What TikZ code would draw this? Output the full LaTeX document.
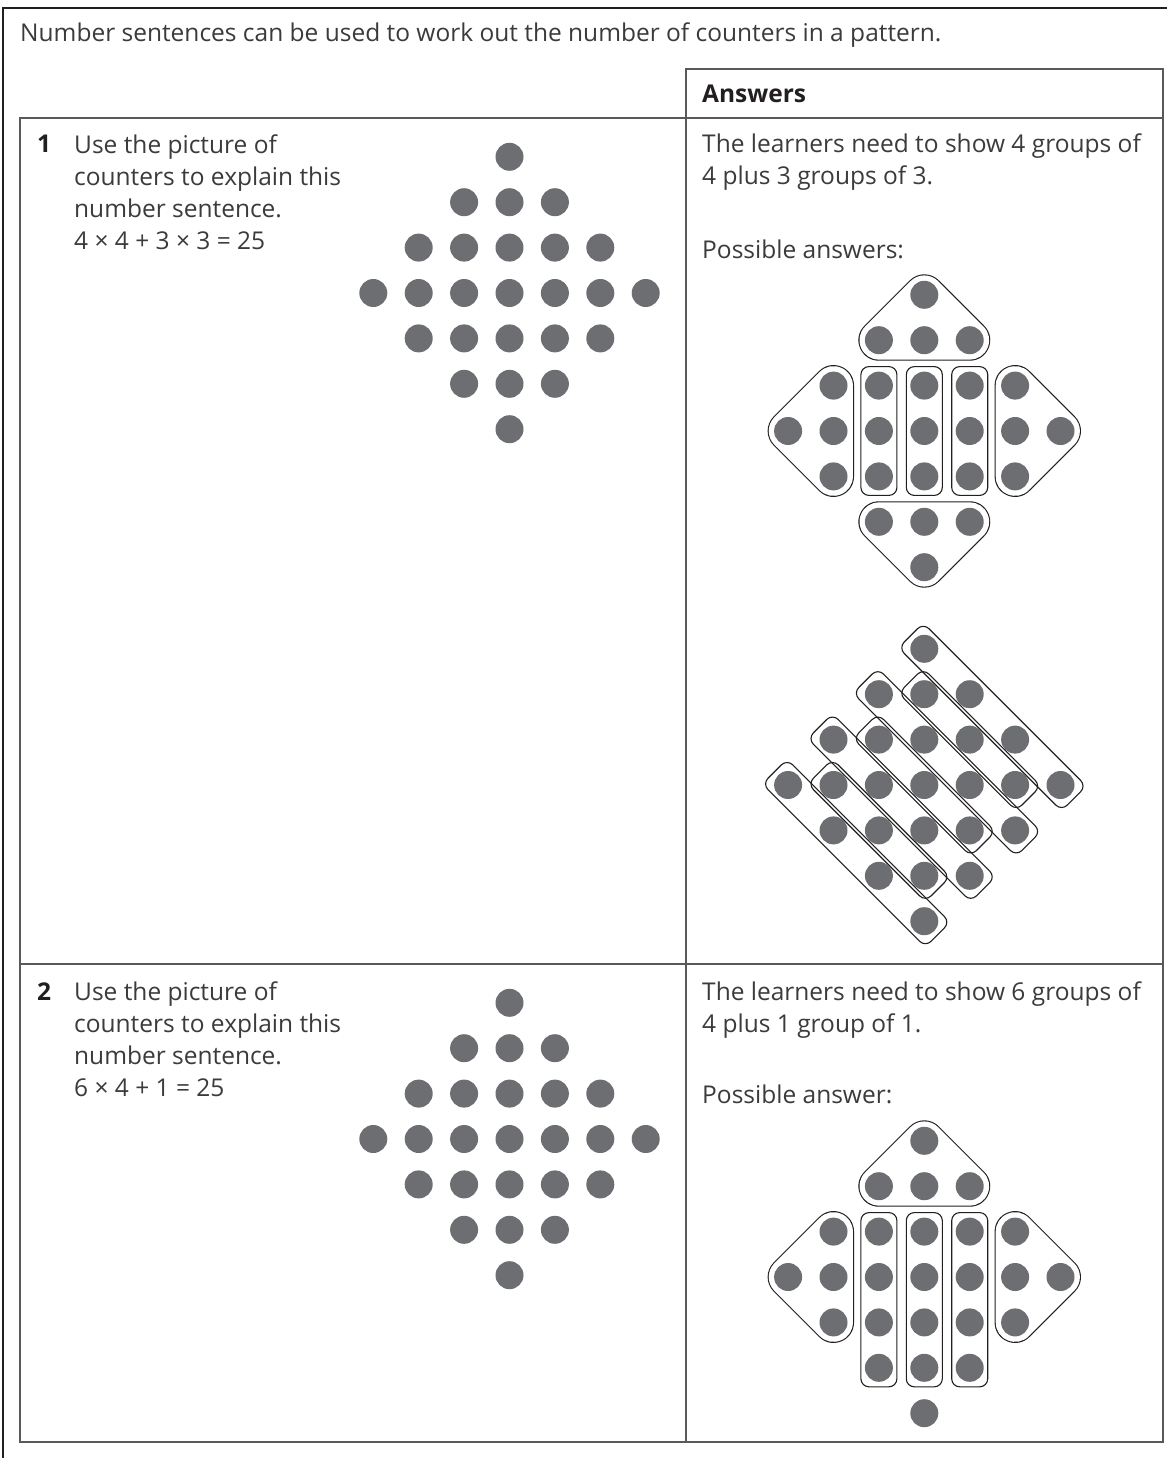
\documentclass[tikz,border=0pt]{standalone}
\usepackage{fontspec}
\setmainfont{Open Sans}
\usetikzlibrary{positioning}
\definecolor{countergray}{RGB}{109,110,113}
\definecolor{inkgray}{RGB}{35,31,32}
\definecolor{textgray}{RGB}{60,58,60}
\definecolor{rulegray}{RGB}{88,89,91}
\tikzset{
  sheetText/.style={anchor=base west, align=left, inner sep=0pt, text=textgray, font=\fontsize{24.5}{32}\selectfont},
  sheetNum/.style={sheetText, text=inkgray, font=\fontsize{24.5}{32}\selectfont\bfseries},
  sheetRule/.style={draw=rulegray, line width=1.6pt},
  counterDot/.style={fill=countergray},
  groupTri/.style={draw=inkgray, double=white, double distance=38.8pt, line width=1.1pt, line join=round, fill=white},
  groupCol/.style={draw=inkgray, line width=1.1pt, rounded corners=8pt, minimum width=36pt, inner sep=0pt},
  groupDiag/.style={draw=inkgray, line width=1.1pt, rounded corners=8pt, rotate=-45, minimum height=35pt, inner sep=0pt}
}
% 25 counters in a diamond, in the units of the scope
\newcommand{\counterDiamond}{%
  \foreach \m in {-3,...,3}{
    \pgfmathtruncatemacro\w{3-abs(\m)}
    \foreach \k in {-\w,...,\w}
      \fill[counterDot] (\k,\m) circle[radius=14pt];
  }}

\begin{document}
\begin{tikzpicture}[x=1pt, y=-1pt]
  \useasboundingbox (0,0) rectangle (1167,1458);

  % frame and table
  \draw[line width=1.2pt, inkgray] (3,1458) -- (3,8) -- (1167,8);
  \draw[sheetRule] (686,69) rectangle (1163,118);
  \draw[sheetRule] (20,118) rectangle (1163,1442);
  \draw[sheetRule] (686,118) -- (686,1442);
  \draw[sheetRule] (20,964) -- (1163,964);

  \node[sheetText] (intro) at (20,42) {Number sentences can be used to work out the number of counters in a pattern.};
  \node[sheetNum] (answersHead) at (702,103) {Answers};

  % question 1 (multi-line texts sit on their last baseline)
  \node[sheetNum] (num1) at (37,153) {1};
  \node[sheetText] (task1) at (74,249) {Use the picture of\\counters to explain this\\number sentence.\\4 × 4 + 3 × 3 = 25};
  \node[sheetText] (answer1) at (702,185) {The learners need to show 4 groups of\\4 plus 3 groups of 3.};
  \node[sheetText] (possible1) at (702,258) {Possible answers:};
  \begin{scope}[shift={(509.5,293)}, x=45.4pt, y=-45.4pt]
    \counterDiamond
  \end{scope}

  % answer 1, first way
  \begin{scope}[shift={(924.3,431)}, x=45.4pt, y=-45.4pt]
    \draw[groupTri] (0,-3) -- (-1,-2) -- (1,-2) -- cycle;
    \draw[groupTri] (0,3) -- (-1,2) -- (1,2) -- cycle;
    \draw[groupTri] (-3,0) -- (-2,-1) -- (-2,1) -- cycle;
    \draw[groupTri] (3,0) -- (2,-1) -- (2,1) -- cycle;
    \foreach \k in {-1,0,1}
      \node[groupCol, minimum height=128.8pt] (colA\k) at (\k,0) {};
    \counterDiamond
  \end{scope}

  % answer 1, second way
  \begin{scope}[shift={(924.3,785)}, x=45.4pt, y=-45.4pt]
    \foreach \c/\len in {3/230.6, 2/166.4, 1/230.6, 0/166.4, -1/230.6, -2/166.4, -3/230.6}
      \node[groupDiag, minimum width=\len pt] (diag\c) at (\c/2,-\c/2) {};
    \counterDiamond
  \end{scope}

  % question 2
  \node[sheetNum] (num2) at (37,1000) {2};
  \node[sheetText] (task2) at (74,1096) {Use the picture of\\counters to explain this\\number sentence.\\6 × 4 + 1 = 25};
  \node[sheetText] (answer2) at (702,1032) {The learners need to show 6 groups of\\4 plus 1 group of 1.};
  \node[sheetText] (possible2) at (702,1103) {Possible answer:};
  \begin{scope}[shift={(509.5,1139)}, x=45.4pt, y=-45.4pt]
    \counterDiamond
  \end{scope}

  % answer 2
  \begin{scope}[shift={(924.3,1277)}, x=45.4pt, y=-45.4pt]
    \draw[groupTri] (0,-3) -- (-1,-2) -- (1,-2) -- cycle;
    \draw[groupTri] (-3,0) -- (-2,-1) -- (-2,1) -- cycle;
    \draw[groupTri] (3,0) -- (2,-1) -- (2,1) -- cycle;
    \foreach \k in {-1,0,1}
      \node[groupCol, minimum height=174.2pt] (colB\k) at (\k,0.5) {};
    \counterDiamond
  \end{scope}
\end{tikzpicture}
\end{document}
